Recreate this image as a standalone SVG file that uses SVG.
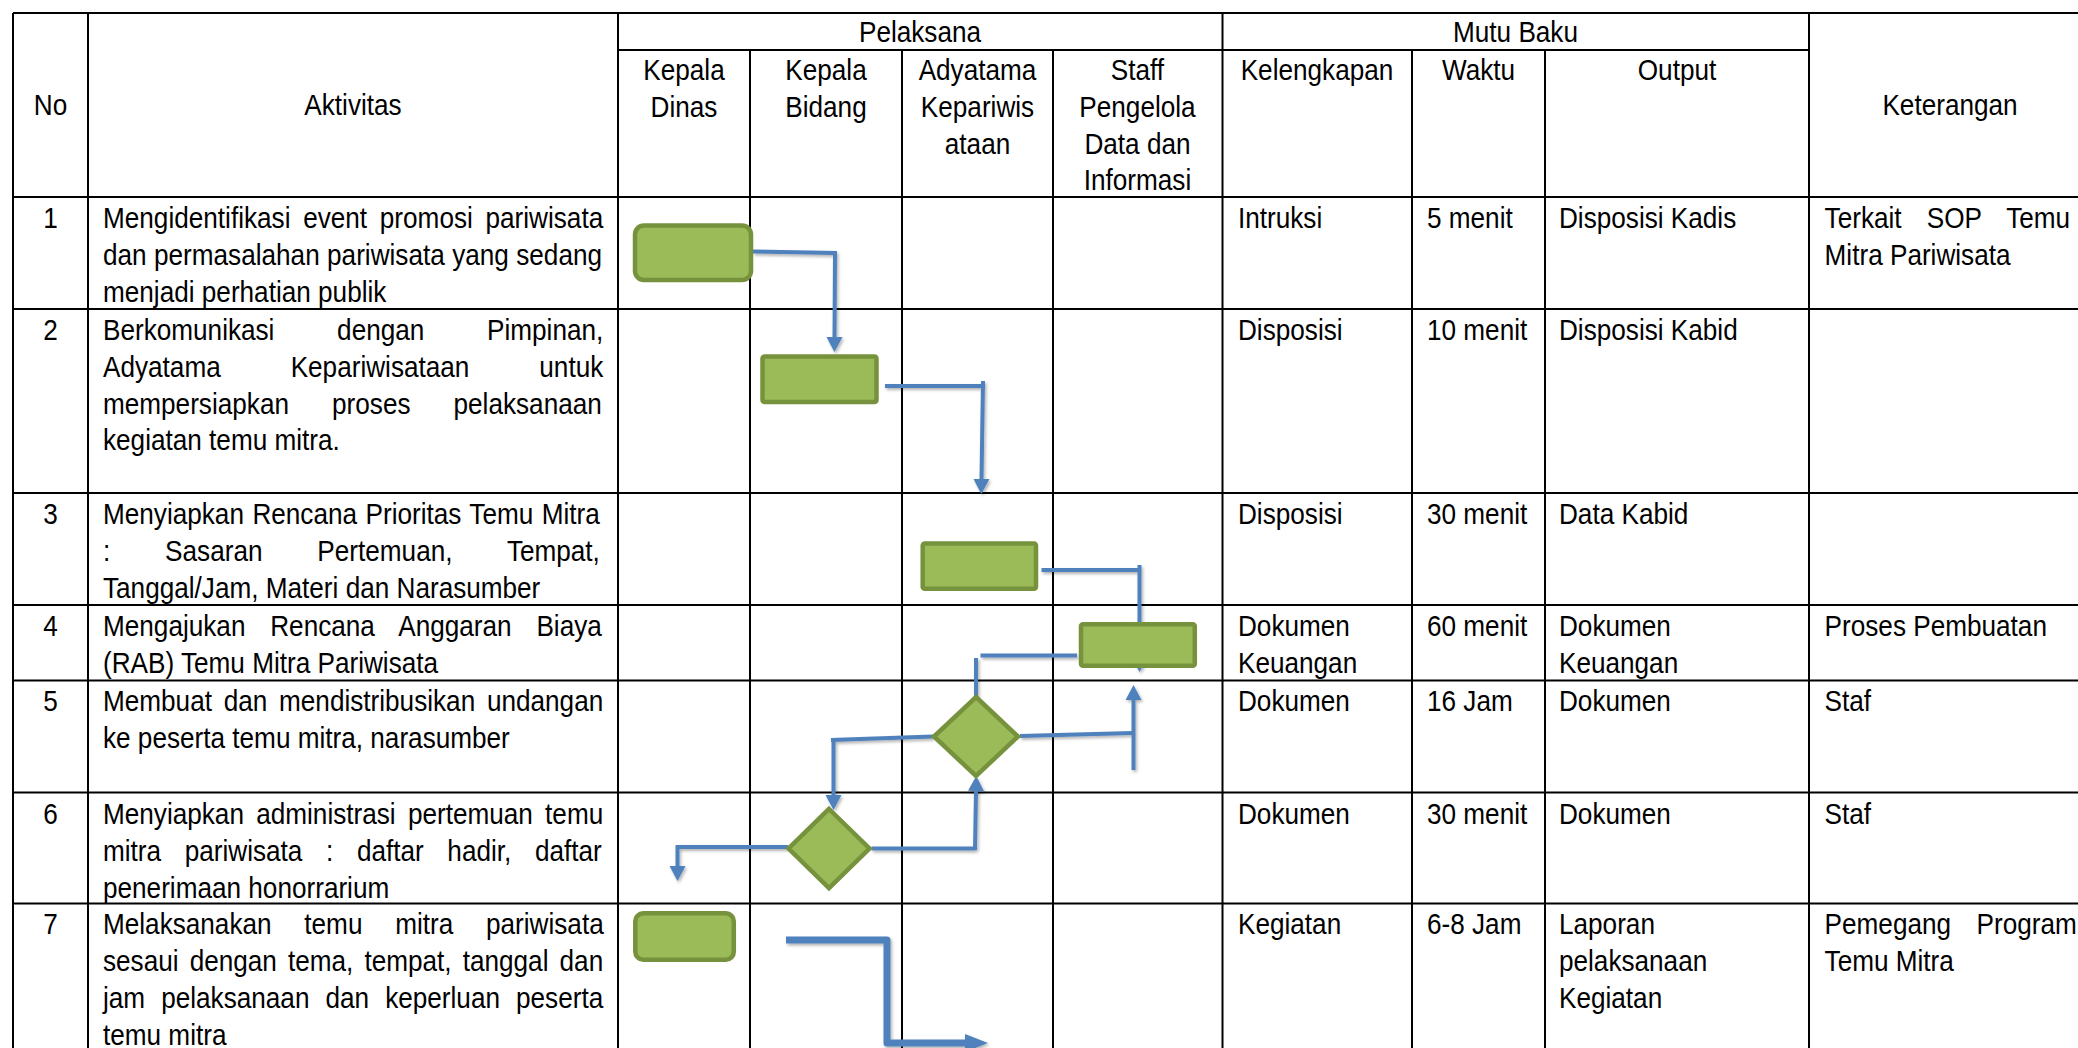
<svg xmlns="http://www.w3.org/2000/svg" width="2078" height="1048" viewBox="0 0 2078 1048">
<defs>
<style>
.grid{stroke:#000;stroke-width:2;fill:none}
.conn{stroke:#4F81BD;stroke-width:4;fill:none;stroke-linecap:butt}
.thick{stroke:#4F81BD;stroke-width:7;fill:none;stroke-linejoin:round}
.box{fill:#9BBB59;stroke:#76923C;stroke-width:4.5}
.t{font-family:"Liberation Sans",Arial,sans-serif;font-size:30px;fill:#000}
.c{text-anchor:middle}
</style>
<marker id="ah" markerUnits="userSpaceOnUse" markerWidth="15" markerHeight="16" refX="0" refY="8" orient="auto" overflow="visible"><path d="M0,0 L15,8 L0,16 z" fill="#4F81BD"/></marker>
<marker id="ahb" markerUnits="userSpaceOnUse" markerWidth="23" markerHeight="18" refX="0" refY="9" orient="auto" overflow="visible"><path d="M0,0 L23,9 L0,18 z" fill="#4F81BD"/></marker>
<filter id="sh" x="-5%" y="-5%" width="115%" height="115%"><feDropShadow dx="1.5" dy="2" stdDeviation="1.5" flood-color="#000" flood-opacity="0.3"/></filter>
</defs>
<rect width="2078" height="1048" fill="#fff"/>

<g id="table" class="grid">
<path d="M13,13H2078M618,50H1809M13,197H2078M13,309H2078M13,493H2078M13,605H2078M13,680.5H2078M13,792.5H2078M13,903.5H2078"/>
<path d="M13,13V1048M88,13V1048M618,13V1048M1222.5,13V1048M1809,13V1048M750,50V1048M902,50V1048M1053,50V1048M1412,50V1048M1545,50V1048"/>
</g>

<g id="connectors" filter="url(#sh)">
<path class="conn" d="M753,251.5 L835,253 L834.5,337" marker-end="url(#ah)"/>
<path class="conn" d="M885,386 L985,386"/>
<path class="conn" d="M983,381 L981.5,479" marker-end="url(#ah)"/>
<path class="conn" d="M1041.5,570 L1141,570"/>
<path class="conn" d="M1139.5,565 L1139.5,657" marker-end="url(#ah)"/>
<path class="conn" d="M1077,655.5 L980.5,655.5"/>
<path class="conn" d="M976,658 L976,697"/>
<path class="conn" d="M1020,736 L1133,733"/>
<path class="conn" d="M1133.5,770 L1133.5,700" marker-end="url(#ah)"/>
<path class="conn" d="M933,736.5 L831,740"/>
<path class="conn" d="M833.5,738 L833.5,795" marker-end="url(#ah)"/>
<path class="conn" d="M871.5,848.5 L975,848.5"/>
<path class="conn" d="M975,850 L976,791" marker-end="url(#ah)"/>
<path class="conn" d="M788,847 L677.5,847 L677.5,866" marker-end="url(#ah)"/>
<path class="thick" d="M786,940 L887,940 L887,1043 L965,1043" marker-end="url(#ahb)"/>
</g>

<g id="n1"><rect class="box" x="635" y="225.5" width="116" height="54.5" rx="9"/></g>
<g id="n2"><rect class="box" x="762.5" y="356.5" width="114" height="45.5" rx="2"/></g>
<g id="n3"><rect class="box" x="922.7" y="543.5" width="113.3" height="45.3" rx="2"/></g>
<g id="n4"><rect class="box" x="1081" y="624.3" width="113.8" height="41.5" rx="2"/></g>
<g id="n5"><path class="box" d="M976,697 L1018,736.5 L976,776 L934,736.5 z"/></g>
<g id="n6"><path class="box" d="M829,809 L869.5,848.5 L829,888 L788.5,848.5 z"/></g>
<g id="n7"><rect class="box" x="635.3" y="913.3" width="98.5" height="46.5" rx="8"/></g>

<g id="texts" class="t" transform="scale(0.872,1)">
<text class="c" x="1055.05" y="42">Pelaksana</text>
<text class="c" x="1737.96" y="42">Mutu Baku</text>
<text class="c" x="57.91" y="115">No</text>
<text class="c" x="404.82" y="115">Aktivitas</text>
<text class="c" x="2236.24" y="115">Keterangan</text>
<text class="c" x="784.4" y="80">Kepala</text>
<text class="c" x="784.4" y="116.8">Dinas</text>
<text class="c" x="947.25" y="80">Kepala</text>
<text class="c" x="947.25" y="116.8">Bidang</text>
<text class="c" x="1120.99" y="80">Adyatama</text>
<text class="c" x="1120.99" y="116.8">Kepariwis</text>
<text class="c" x="1120.99" y="153.6">ataan</text>
<text class="c" x="1304.47" y="80">Staff</text>
<text class="c" x="1304.47" y="116.8">Pengelola</text>
<text class="c" x="1304.47" y="153.6">Data dan</text>
<text class="c" x="1304.47" y="190.4">Informasi</text>
<text class="c" x="1510.32" y="80">Kelengkapan</text>
<text class="c" x="1695.53" y="80">Waktu</text>
<text class="c" x="1923.17" y="80">Output</text>

<text class="c" x="57.91" y="228">1</text>
<text class="c" x="57.91" y="340">2</text>
<text class="c" x="57.91" y="524">3</text>
<text class="c" x="57.91" y="636">4</text>
<text class="c" x="57.91" y="711.5">5</text>
<text class="c" x="57.91" y="824">6</text>
<text class="c" x="57.91" y="934.5">7</text>

<text x="118.12" y="228" style="word-spacing:6.26px">Mengidentifikasi event promosi pariwisata</text>
<text x="118.12" y="264.8" style="word-spacing:0.16px">dan permasalahan pariwisata yang sedang</text>
<text x="118.12" y="301.6">menjadi perhatian publik</text>

<text x="118.12" y="340" style="word-spacing:63.56px">Berkomunikasi dengan Pimpinan,</text>
<text x="118.12" y="376.8" style="word-spacing:71.88px">Adyatama Kepariwisataan untuk</text>
<text x="118.12" y="413.6" style="word-spacing:41.05px">mempersiapkan proses pelaksanaan</text>
<text x="118.12" y="450.4">kegiatan temu mitra.</text>

<text x="118.12" y="524" style="word-spacing:1.37px">Menyiapkan Rencana Prioritas Temu Mitra</text>
<text x="118.12" y="560.8" style="word-spacing:54.59px">: Sasaran Pertemuan, Tempat,</text>
<text x="118.12" y="597.6">Tanggal/Jam, Materi dan Narasumber</text>

<text x="118.12" y="636" style="word-spacing:20.12px">Mengajukan Rencana Anggaran Biaya</text>
<text x="118.12" y="672.8">(RAB) Temu Mitra Pariwisata</text>

<text x="118.12" y="711.5" style="word-spacing:5.12px">Membuat dan mendistribusikan undangan</text>
<text x="118.12" y="748.3">ke peserta temu mitra, narasumber</text>

<text x="118.12" y="824" style="word-spacing:5.7px">Menyiapkan administrasi pertemuan temu</text>
<text x="118.12" y="860.8" style="word-spacing:18.76px">mitra pariwisata : daftar hadir, daftar</text>
<text x="118.12" y="897.6">penerimaan honorrarium</text>

<text x="118.12" y="934.5" style="word-spacing:29.23px">Melaksanakan temu mitra pariwisata</text>
<text x="118.12" y="971.3" style="word-spacing:4.39px">sesaui dengan tema, tempat, tanggal dan</text>
<text x="118.12" y="1008.1" style="word-spacing:10.09px">jam pelaksanaan dan keperluan peserta</text>
<text x="118.12" y="1044.9">temu mitra</text>

<text x="1419.72" y="228">Intruksi</text>
<text x="1419.72" y="340">Disposisi</text>
<text x="1419.72" y="524">Disposisi</text>
<text x="1419.72" y="636">Dokumen</text>
<text x="1419.72" y="672.8">Keuangan</text>
<text x="1419.72" y="711.5">Dokumen</text>
<text x="1419.72" y="824">Dokumen</text>
<text x="1419.72" y="934.5">Kegiatan</text>

<text x="1636.47" y="228">5 menit</text>
<text x="1636.47" y="340">10 menit</text>
<text x="1636.47" y="524">30 menit</text>
<text x="1636.47" y="636">60 menit</text>
<text x="1636.47" y="711.5">16 Jam</text>
<text x="1636.47" y="824">30 menit</text>
<text x="1636.47" y="934.5">6-8 Jam</text>

<text x="1787.84" y="228">Disposisi Kadis</text>
<text x="1787.84" y="340">Disposisi Kabid</text>
<text x="1787.84" y="524">Data Kabid</text>
<text x="1787.84" y="636">Dokumen</text>
<text x="1787.84" y="672.8">Keuangan</text>
<text x="1787.84" y="711.5">Dokumen</text>
<text x="1787.84" y="824">Dokumen</text>
<text x="1787.84" y="934.5">Laporan</text>
<text x="1787.84" y="971.3">pelaksanaan</text>
<text x="1787.84" y="1008.1">Kegiatan</text>

<text x="2092.43" y="228" style="word-spacing:20.53px">Terkait SOP Temu</text>
<text x="2092.43" y="264.8">Mitra Pariwisata</text>
<text x="2092.43" y="636">Proses Pembuatan</text>
<text x="2092.43" y="711.5">Staf</text>
<text x="2092.43" y="824">Staf</text>
<text x="2092.43" y="934.5" style="word-spacing:21.01px">Pemegang Program</text>
<text x="2092.43" y="971.3">Temu Mitra</text>
</g>
</svg>
